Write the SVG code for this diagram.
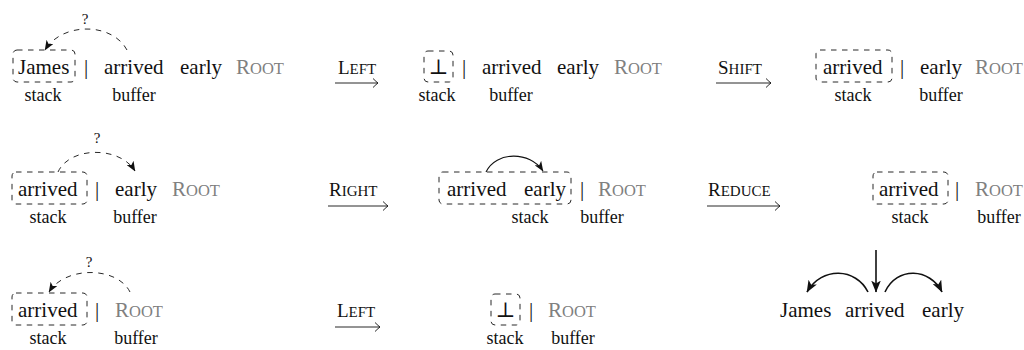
<svg xmlns="http://www.w3.org/2000/svg" width="1024" height="350" viewBox="0 0 1024 350">
<defs>
<style>
text{font-family:"Liberation Serif","DejaVu Serif",serif;fill:#111}
.w{font-size:21px}
.lab{font-size:18px;text-anchor:middle}
.root{font-size:21px;fill:#808080}
.sc{font-size:16.5px}
.tr{font-size:19px}
.trs{font-size:15px}
.q{font-size:15px;text-anchor:middle}
.bot{font-size:21px;text-anchor:middle;font-family:"DejaVu Sans","DejaVu Serif",sans-serif;font-weight:200}
.box{fill:none;stroke:#111;stroke-width:0.9;stroke-dasharray:5.5 5.5}
.darc{fill:none;stroke:#111;stroke-width:0.9;stroke-dasharray:5.5 5.5;marker-end:url(#stealth)}
.sarc{fill:none;stroke:#111;stroke-width:1.1;marker-end:url(#stealth)}
.harc{fill:none;stroke:#111;stroke-width:1.6;marker-end:url(#stealthb)}
.trans{fill:none;stroke:#111;stroke-width:0.9;marker-end:url(#to)}
</style>
<marker id="stealth" markerUnits="userSpaceOnUse" viewBox="0 0 10 8" refX="9.5" refY="4" markerWidth="10" markerHeight="8" orient="auto">
<path d="M0,0 L10,4 L0,8 L2.5,4 Z" fill="#111" stroke="none"/>
</marker>
<marker id="stealthb" markerUnits="userSpaceOnUse" viewBox="0 0 10 8" refX="9.5" refY="4" markerWidth="12" markerHeight="10" orient="auto">
<path d="M0,0 L10,4 L0,8 L2.5,4 Z" fill="#111" stroke="none"/>
</marker>
<marker id="to" markerUnits="userSpaceOnUse" viewBox="-6 -5 7 10" refX="0" refY="0" markerWidth="7" markerHeight="10" orient="auto">
<path d="M-5,-4.5 Q-1.5,-1 0,0 Q-1.5,1 -5,4.5" fill="none" stroke="#111" stroke-width="0.9"/>
</marker>
</defs>

<g id="config1">
<rect class="box" x="13" y="50" width="62" height="32" rx="4"/>
<text class="w" x="18" y="74">James</text>
<text class="w" x="84" y="74">|</text>
<text class="w" x="104" y="74">arrived</text>
<text class="w" x="180" y="74">early</text>
<text class="root" x="236" y="74">R<tspan class="sc">OOT</tspan></text>
<text class="lab" x="43" y="101">stack</text>
<text class="lab" x="134" y="101">buffer</text>
<text class="q" x="85" y="24">?</text>
</g>

<g id="config2">
<rect class="box" x="424" y="51" width="29" height="31" rx="4"/>
<text class="bot" x="438.5" y="74">⊥</text>
<text class="w" x="462" y="74">|</text>
<text class="w" x="482" y="74">arrived</text>
<text class="w" x="557" y="74">early</text>
<text class="root" x="614" y="74">R<tspan class="sc">OOT</tspan></text>
<text class="lab" x="437" y="101">stack</text>
<text class="lab" x="511" y="101">buffer</text>
</g>

<g id="config3">
<rect class="box" x="816" y="50" width="76" height="32" rx="4"/>
<text class="w" x="823" y="74">arrived</text>
<text class="w" x="900" y="74">|</text>
<text class="w" x="920" y="74">early</text>
<text class="root" x="975" y="74">R<tspan class="sc">OOT</tspan></text>
<text class="lab" x="853" y="101">stack</text>
<text class="lab" x="941" y="101">buffer</text>
</g>

<g id="config4">
<rect class="box" x="12" y="172" width="75" height="32" rx="4"/>
<text class="w" x="18" y="196">arrived</text>
<text class="w" x="95" y="196">|</text>
<text class="w" x="115" y="196">early</text>
<text class="root" x="172" y="196">R<tspan class="sc">OOT</tspan></text>
<text class="lab" x="48" y="223">stack</text>
<text class="lab" x="135" y="223">buffer</text>
<text class="q" x="97" y="143">?</text>
</g>

<g id="config5">
<rect class="box" x="439" y="172" width="132" height="32" rx="4"/>
<text class="w" x="447" y="196">arrived</text>
<text class="w" x="524" y="196">early</text>
<text class="w" x="580" y="196">|</text>
<text class="root" x="598" y="196">R<tspan class="sc">OOT</tspan></text>
<text class="lab" x="530" y="223">stack</text>
<text class="lab" x="602" y="223">buffer</text>
</g>

<g id="config6">
<rect class="box" x="873" y="172" width="75" height="32" rx="4"/>
<text class="w" x="879" y="196">arrived</text>
<text class="w" x="955" y="196">|</text>
<text class="root" x="975" y="196">R<tspan class="sc">OOT</tspan></text>
<text class="lab" x="910" y="223">stack</text>
<text class="lab" x="999" y="223">buffer</text>
</g>

<g id="config7">
<rect class="box" x="12" y="293" width="75" height="32" rx="4"/>
<text class="w" x="18" y="317">arrived</text>
<text class="w" x="95" y="317">|</text>
<text class="root" x="115" y="317">R<tspan class="sc">OOT</tspan></text>
<text class="lab" x="48" y="344">stack</text>
<text class="lab" x="136" y="344">buffer</text>
<text class="q" x="89" y="267">?</text>
</g>

<g id="config8">
<rect class="box" x="491" y="294" width="29" height="31" rx="4"/>
<text class="bot" x="505.5" y="317">⊥</text>
<text class="w" x="529" y="317">|</text>
<text class="root" x="548" y="317">R<tspan class="sc">OOT</tspan></text>
<text class="lab" x="505" y="344">stack</text>
<text class="lab" x="573" y="344">buffer</text>
</g>

<g id="tree">
<text class="w" x="780" y="317">James</text>
<text class="w" x="845" y="317">arrived</text>
<text class="w" x="922" y="317">early</text>
</g>

<g id="connectors">
<path class="trans" d="M335,83 H378"/>
<text class="tr" x="338" y="74">L<tspan class="trs">EFT</tspan></text>
<path class="trans" d="M716,83 H771"/>
<text class="tr" x="718" y="74">S<tspan class="trs">HIFT</tspan></text>
<path class="trans" d="M328,206 H388"/>
<text class="tr" x="329" y="196">R<tspan class="trs">IGHT</tspan></text>
<path class="trans" d="M707,206 H780"/>
<text class="tr" x="708" y="196">R<tspan class="trs">EDUCE</tspan></text>
<path class="trans" d="M335,327 H380"/>
<text class="tr" x="337" y="317">L<tspan class="trs">EFT</tspan></text>

<path class="darc" d="M127,50 C112,22 62,22 45,50"/>
<path class="darc" d="M58,172 C70,146 120,146 135,171"/>
<path class="darc" d="M130,292 C117,266 65,266 49,292"/>
<path class="sarc" d="M486,172 C496,151 530,151 543,171"/>

<path class="harc" d="M876,250 V292"/>
<path class="harc" d="M868,292 C856,268 822,266 807,292"/>
<path class="harc" d="M885,292 C897,266 930,268 942,292"/>
</g>
</svg>
